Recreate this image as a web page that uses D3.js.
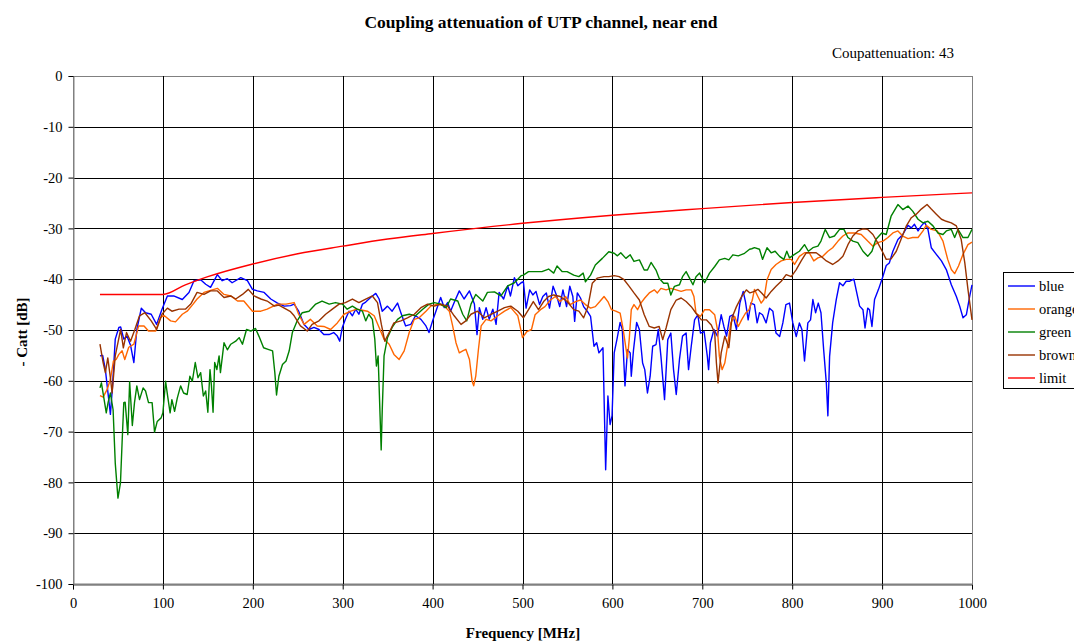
<!DOCTYPE html>
<html>
<head>
<meta charset="utf-8">
<script src="https://cdn.jsdelivr.net/npm/d3@7"></script>
<style>
  body { margin: 0; background: #fff; }
  text { font-family: "Liberation Serif", "DejaVu Serif", serif; }
</style>
</head>
<body>
<svg id="chart" width="1074" height="641"></svg>
<script>
// [frequency MHz, dB]
const blue = [[30,-55.1],[33,-55],[36,-57.8],[41.6,-66.6],[44,-61],[47,-51.8],[51,-49.5],[53,-49.4],[56.5,-51.8],[60,-51.2],[64,-53],[67.7,-56.4],[71,-49.9],[76,-45.7],[80.7,-46.6],[87,-46.9],[93,-48.9],[99,-45.9],[105,-43.3],[112,-43.3],[121.6,-44],[129,-42.6],[134.6,-40.3],[142,-40.1],[147.6,-41],[153,-41.6],[160.6,-39.1],[166,-40.3],[171.7,-39.9],[177,-40.7],[186.6,-39.7],[194,-40.3],[199.6,-42],[205,-42.3],[212.6,-42.6],[220,-43.9],[227.5,-44.7],[235,-45.3],[242,-45.2],
  [246,-44.9],[251,-46.3],[257,-48.9],[262.5,-49.9],[268,-49.5],[273.6,-49.9],[279,-50.9],[284.8,-50.9],[290,-50.5],[294,-51.2],[296.7,-52.2],[299.6,-49.5],[303,-47.9],[307,-46.3],[310.8,-47.2],[314.5,-45.9],[318,-46.9],[322,-44.9],[325.6,-44.5],[331,-43.6],[336.8,-42.8],[340.5,-43.9],[344,-46.3],[349.8,-45.3],[355,-46.3],[361,-44.7],[364.7,-46.6],[370,-49.2],[375.8,-48.9],[381,-47.2],[387,-47.9],[392.6,-49.2],[396,-50.5],[400,-48.2],[403.7,-46.3],[409,-43.6],[413,-45.6],[416.7,-44.6],[420,-46.3],[424,-44.6],[429.7,-42.3],[435,-43.9],[441,-42.3],[446.5,-44.9],[449.4,-50.9],[452,-45.6],[455.8,-47.9],[459.5,-45.6],[463,-47.9],[467,-45.9],[470.6,-48.9],[474,-42.6],[479,-43.9],[483.6,-41.3],[486.6,-43.3],[491,-39.7],[494.8,-41.3],[498.5,-40.7],
  [501,-40.5],[504,-45.7],[508,-42.1],[511.5,-43.1],[515,-42.4],[519,-45],[522.6,-43.4],[526.5,-42.7],[530,-45.7],[534,-41.4],[537.7,-43.1],[541.4,-45.4],[545,-42.1],[549,-45.4],[552.6,-41.4],[556,-43.4],[558,-48.3],[561,-42.7],[564.5,-43.7],[568,-45.4],[572,-46.3],[575.7,-47.3],[579.5,-53.2],[582.5,-52.5],[585,-54.5],[589.5,-53.5],[590.7,-63],[592.5,-77.5],[595,-63],[597.4,-68.6],[599.6,-66.9],[602,-54.5],[605,-51.9],[608.6,-48.5],[611,-49.9],[614,-61],[616.8,-53.9],[619.8,-54.5],[621,-59.1],[623.5,-53.9],[627,-48.5],[630,-49.9],[633.6,-56.5],[636,-57.8],[639,-62.4],[642,-59.1],[644.8,-53.2],[648.5,-52.9],[651,-49.9],[654,-55.2],[658,-63.7],[661.6,-51.9],[665,-50.6],[668,-57.8],[671,-62.7],[674.6,-55.8],[678,-51.2],[682,-50.6],[684.7,-57.8],[687.7,-53.2],[691.4,-48],[695,-47],[698,-50.6],[702,-50.3],[705.6,-55.2],[707,-57.8],[709,-52.5],[713,-49.9],[716.8,-51.2],[721,-47],[724,-49.3],[727,-51.2],[730.6,-47.3],[734,-47],[738,-49.9],[741.8,-44.7],[745.5,-42.4],[748,-44.4],[751,-48],[754,-44.7],
  [758,-45],[761,-48.6],[763.6,-46.6],[767,-47],[771,-48.6],[774.8,-45.7],[778.5,-46.3],[782,-50.6],[786,-51.3],[789.6,-48.6],[793,-45],[797,-44.7],[800.7,-48.6],[804.5,-51.3],[808,-48.6],[810.8,-49.9],[813.7,-56.1],[817.4,-48.6],[820.4,-48],[823,-44],[826,-46.6],[829,-44.7],[832,-46.6],[835,-53.9],[838,-60.5],[839.7,-66.9],[841.6,-55.2],[845,-48.6],[849,-44],[852.7,-40.7],[856.4,-41.3],[860,-40.4],[864,-40.4],[868.6,-40],[871,-42],[875,-45.3],[878.7,-46],[881,-49.6],[884,-45.7],[886,-46],[888.7,-49.3],[891.6,-44],[896,-42],[901,-39.4],[904.6,-37.3],[908,-36.8],[912,-34.5],[917.6,-32.2],[923,-31.2],[928.8,-29.4],[932.5,-29.9],[936,-29.2],[940,-30.5],[943.6,-29.5],[947.3,-28.8],[951,-30.2],[954.7,-33.8],[960.3,-35.1],[966,-36.4],[971.4,-38.1],[977,-41.1],[982.6,-43.4],[986.3,-45.3],[990,-47.6],[993.7,-47],[997.4,-43.4],[1000,-41.1]];

const orange = [[30,-62.9],[33.5,-63.2],[38,-61.7],[41.6,-59.7],[45,-56.1],[48,-55.8],[51,-54.8],[54.6,-54.1],[57.6,-55.8],[62,-53.4],[67.7,-52.8],[73,-49.2],[79,-49.2],[84,-50.2],[92,-50.2],[97,-47.6],[101,-47.1],[108.6,-48.2],[114,-48.4],[121.6,-46.9],[127,-46.3],[132.7,-45.1],[138,-43.9],[145.7,-42.6],[153,-42.2],[160.6,-41.8],[168,-43],[175.5,-43.3],[183,-44.3],[190,-44.3],[199.6,-46.3],[209,-46.3],[216,-45.9],[227.5,-44.9],[237,-44.9],
  [246,-44.6],[251,-46.9],[257,-48.9],[264,-47.9],[271.7,-49.2],[279,-49.3],[286.6,-49.9],[294,-48.6],[301.5,-46.9],[309,-46.3],[316,-45.9],[322,-46.1],[327.5,-46.3],[335,-47.2],[340.5,-49.5],[346,-51.8],[351.7,-52.8],[357,-54.8],[362.8,-55.8],[368.4,-54.1],[374,-50.5],[379.6,-47.9],[385,-47.6],[392.6,-46.3],[398,-45.3],[405.6,-44.9],[413,-45.3],[418.6,-46.3],[422.3,-49.2],[426,-52.5],[429.7,-54.5],[433.5,-54.1],[437,-53.8],[441,-55.8],[444,-60.1],[445.7,-61],[448,-59.1],[451,-53.8],[454,-49.2],[459.5,-47.9],[465,-48.2],[472.5,-47.2],[480,-46.3],[487,-45.6],[494.8,-47.2],[500,-51.5],
  [504.9,-50.3],[510,-49.9],[514,-47],[520,-46],[525,-45.4],[531,-44.1],[536.6,-43.4],[542,-44.4],[548,-43.4],[553,-45],[559,-44.4],[564.5,-44.1],[570,-45],[575.7,-45.7],[581,-45.4],[586,-44.4],[590.7,-43.4],[595,-44.4],[599,-46],[603.7,-46.3],[608.6,-46.7],[612,-49.9],[615,-53.5],[616.8,-55.5],[618.7,-51.9],[621,-46],[624,-45],[628,-46],[631.7,-44.7],[636,-43.7],[641,-42.7],[646.6,-42.1],[650,-42.7],[654,-41.8],[659.7,-42.1],[665,-41.8],[671,-42.1],[676.5,-42.4],[682,-42.1],[687.7,-42.1],[690.7,-43.4],[693,-46.7],[698,-47.3],[702.6,-46],[708,-46],[713.8,-47],[716.8,-49.9],[719,-55.2],[722,-57.8],[725,-56.5],[728,-53.2],[731.7,-48.6],[736,-47.3],[740,-49.3],[743.7,-48],[748,-46.7],[752,-46],[755.6,-44.1],
  [758,-42],[761.8,-43.4],[765.5,-44.7],[768.5,-44],[772,-40.1],[776.6,-38.1],[782,-37.1],[787.8,-36.4],[793.3,-36.1],[799,-36.1],[802.6,-37.1],[808,-35.5],[813.7,-34.8],[819,-34.8],[824,-36.4],[828.6,-35.8],[834,-35.5],[839.7,-34.5],[845,-33.8],[851,-32.5],[856.4,-31.5],[862,-30.9],[869.4,-30.9],[876.8,-31.2],[884,-32.5],[889.8,-33.5],[895,-32.8],[901,-32.5],[906.5,-31.8],[912,-30.9],[917.6,-30.5],[923,-31.5],[928.8,-32],[934,-31.8],[940,-31.8],[945.5,-30.5],[949,-29.4],[954.7,-30.2],[961.4,-30.5],[967.7,-32.5],[973,-36.1],[977,-38.1],[980.7,-38.9],[985,-37.4],[990,-35.1],[995.5,-33.2],[1000,-32.7]];

const green = [[30,-61.4],[31.6,-60.4],[34,-63],[37,-66.3],[39,-64.3],[41.6,-62.4],[44.6,-65.7],[47,-76.2],[50,-83.1],[52.8,-80.1],[54.6,-72.2],[56.5,-64.3],[58,-64.2],[61,-70.6],[63,-60.2],[66,-68.8],[68.4,-64.3],[71,-61],[74,-63.7],[78,-61.4],[80.7,-62],[84,-64.3],[88,-64.3],[90.7,-70.1],[93.7,-68],[98,-67.3],[100,-66.3],[103,-60.1],[105.6,-63.4],[108,-66.3],[110,-63.7],[113,-66],[116,-63.4],[119.7,-61],[123,-62.4],[127,-62.7],[130,-59.1],[132.7,-60.1],[136,-56.4],[139,-59.4],[142,-58.4],[145,-63],[147.6,-62],[150,-66.2],[152.4,-57.8],[154,-61],[155.8,-66.2],[157.6,-56.4],[160,-57.8],[162.5,-55.1],[164,-58.4],[168,-52.5],[171.7,-53.9],[175.5,-52.8],[181,-52.2],[184.8,-51.5],[188.5,-52.8],[193,-49.9],[197.8,-50.2],[203,-49.7],[207,-51.3],[212,-53.5],[217,-53.8],[222,-54.1],[224.5,-58.4],[226.4,-62.8],[229,-59.1],[233,-56.8],[237,-56.1],[240.5,-54.1],[244,-50.5],
  [249.4,-48.2],[255,-46.6],[262.5,-46.3],[270,-44.9],[277,-44.3],[285,-44.9],[292,-44.6],[299.6,-44.9],[305,-45.9],[310.8,-45.3],[316,-45.9],[322,-46.3],[325.6,-48.2],[329,-46.9],[333,-47.9],[335.7,-51.8],[337.5,-57.1],[339.4,-55.1],[341.6,-67],[342.8,-73.6],[344,-65.7],[346,-55.1],[349.8,-51.5],[355,-49.5],[361,-47.9],[366.5,-47.2],[374,-46.9],[381,-47.2],[389,-45.9],[396,-44.9],[402,-44.6],[409,-44.9],[415,-45.6],[420,-43.9],[428,-44.3],[433.5,-46.9],[438,-48.2],[442.7,-44.9],[448,-43],[455.8,-44.3],[461,-42.6],[468.8,-42.5],[476,-43.3],[483.6,-41.3],[491,-40.7],[498.5,-39.3],
  [501,-39.2],[506.7,-38.5],[514,-38.5],[521.6,-38.5],[529,-38],[534.7,-38.8],[538.4,-37.4],[544,-38.5],[549.6,-38.5],[557,-39.2],[562.7,-39.5],[567.5,-38.8],[570,-40.5],[575.7,-39.2],[581,-37.2],[588.8,-35.9],[596,-34.6],[602,-34.9],[605.6,-35.4],[609.3,-34.8],[615,-35.9],[619.8,-35.2],[624,-36.5],[630,-36.2],[635.4,-38.2],[639,-38.2],[643,-36.7],[648.5,-38.2],[652,-39.8],[657,-40.8],[661.6,-40.8],[665,-43.1],[669,-41.4],[674.6,-41.1],[678,-39.5],[682,-38.5],[685.8,-39.8],[689.6,-41.1],[693,-39.5],[697,-38.8],[702.6,-40.7],[708,-38.8],[713.8,-37.5],[719,-36.2],[725,-35.9],[729.5,-36.2],[734,-35.2],[740,-35.4],[747,-34.9],[752.6,-34.1],[755,-34],
  [758,-33.8],[763.6,-34.1],[767,-36.1],[772,-33.8],[776.6,-34.8],[781,-34.5],[786,-35.5],[790.7,-36.1],[794,-34.5],[797,-35.8],[802.6,-35.1],[808,-34.5],[813.7,-33.2],[818,-34.5],[823,-33.8],[828.6,-33.5],[832,-32.5],[836.7,-30.2],[841.6,-31.8],[847,-31.5],[852.7,-30.2],[857.5,-30.2],[862,-31.8],[867.5,-32.5],[873,-32.8],[878.7,-34.5],[884,-35.5],[888.7,-34.5],[893,-32.2],[899.6,-30.9],[904.6,-31.2],[910,-27.6],[917.6,-25.3],[923,-26.3],[928.8,-25.6],[934,-26.6],[940,-28.2],[945.5,-28.9],[951,-28.6],[956.6,-29.5],[962,-30.9],[967.7,-31.2],[971.4,-30.5],[977,-30.2],[980.7,-31.8],[984.4,-30.2],[990,-31.8],[995.5,-31.8],[1000,-30.2]];

const brown = [[30,-52.8],[33.5,-56.4],[36,-58.4],[38.7,-55.5],[41.6,-59.4],[43.5,-62.4],[47,-55.1],[50,-52.5],[53,-49.9],[56,-53.5],[59.5,-50.5],[64,-52.2],[68.8,-49.9],[74,-47.2],[80,-46.6],[87,-48.2],[93,-49.9],[99,-46.9],[105,-45.7],[110,-46.3],[118,-45.9],[125,-45.9],[131,-44.9],[138,-42.6],[145.7,-43],[153,-42.3],[160.6,-42.3],[168,-43.6],[175.5,-43.3],[181,-43.9],[188.5,-43],[195,-42],[201.5,-43.3],[209,-43.9],[216,-44.3],[224,-45.3],[229,-45.1],[237,-45.9],[242,-46.4],
  [246,-47.2],[253,-49.2],[260.6,-50.2],[266,-48.9],[273.6,-48.2],[281,-46.9],[288.5,-45.9],[296,-44.9],[303,-44.6],[310.8,-43.9],[318,-44.6],[325.6,-43.9],[333,-43.3],[338.7,-44.6],[343,-48.9],[346.8,-52.2],[351.7,-50.5],[357,-48.6],[364.7,-48.2],[372,-47.6],[379.6,-46.9],[387,-45.6],[394.4,-44.9],[401.9,-45.3],[409,-44.9],[416.7,-45.3],[424,-47.2],[431.6,-48.9],[437,-48.2],[442.7,-46.9],[450,-46.3],[457.6,-47.6],[465,-46.9],[472.5,-46.3],[480,-45.6],[487,-45.3],[494.8,-46.3],
  [501,-47.6],[506.7,-46],[512,-44.4],[517.8,-46],[523.5,-44.4],[529,-43.4],[534.7,-43.1],[542,-43.4],[549.6,-44.4],[557,-46],[562.7,-46.3],[568,-47.6],[572.8,-45.4],[577.6,-40.8],[583,-39.8],[590.7,-39.5],[596,-39.5],[602,-39.3],[607.5,-39.5],[613,-40.1],[618.7,-41.4],[624,-42.7],[630,-44.1],[635.4,-47],[641,-49.3],[646.6,-49.6],[652,-49.3],[656,-51.9],[659.7,-49.6],[665,-46],[671,-44.1],[676.5,-43.7],[682,-44.4],[687.7,-45.4],[693,-46.7],[699,-48],[704.5,-48],[710,-49],[713.8,-50.6],[715.7,-56.5],[717.5,-60.4],[721,-54.5],[725,-51.2],[729.5,-53.5],[733,-47.6],[738,-45.4],[743.7,-43.4],[749,-42.1],[753,-42.7],
  [758,-42.4],[761.8,-42],[766,-42.7],[771,-43.7],[776.6,-42.4],[782,-41.4],[787.8,-40.4],[793.3,-39.1],[799,-39.5],[804.5,-38.1],[810,-36.4],[815.6,-34.8],[821,-34.8],[826.7,-34.8],[832,-35.5],[838,-36.4],[845,-37.1],[851,-36.4],[856.4,-35.5],[862,-33.2],[867.5,-31.5],[873,-30.5],[878.7,-30.1],[884,-30.2],[889.8,-31.2],[895,-32.8],[901,-34.8],[904.6,-36.1],[910,-36],[915.8,-34.5],[921,-32.2],[927,-29.5],[932.5,-27.9],[938,-27.2],[943.6,-26.2],[950,-25.3],[954.7,-26.2],[960.3,-27.2],[966,-28.2],[971.4,-28.6],[977,-28.9],[982.6,-29.5],[988,-32.2],[992,-36.8],[995.5,-42],[998.5,-46],[1000,-48]];

const limit = [[30,-43],[100,-43],[125,-41.1],[150,-39.5],[200,-37],[250,-35],[300,-33.5],[350,-32.1],[400,-31],[500,-29],[600,-27.4],[700,-26.1],[800,-24.9],[900,-23.9],[1000,-23]];

const seriesNames = ["blue", "orange", "green", "brown", "limit"];
const seriesData = [blue, orange, green, brown, limit];
const colors = ["#0000ff", "#ff6600", "#008000", "#993300", "#ff0000"];

const xTicks = d3.range(0, 1001, 100);
const yTicks = d3.range(-100, 1, 10);

const svg = d3.select("#chart");
const margin = {left: 73, right: 972, top: 76, bottom: 584};

const x = d3.scaleLinear().domain([0, 1000]).range([margin.left, margin.right]);
const y = d3.scaleLinear().domain([-100, 0]).range([margin.bottom, margin.top]);

// grid
svg.append("g")
   .selectAll("line")
   .data(yTicks)
   .enter()
   .append("line")
   .attr("x1", x(0)).attr("x2", x(1000))
   .attr("y1", d => Math.round(y(d)) + 0.5)
   .attr("y2", d => Math.round(y(d)) + 0.5)
   .attr("stroke", d => d === -100 || d === 0 ? "#808080" : "#000")
   .attr("stroke-width", d => d === -100 ? 2 : 1);

svg.append("g")
   .selectAll("line")
   .data(xTicks)
   .enter()
   .append("line")
   .attr("x1", d => Math.round(x(d)) + 0.5)
   .attr("x2", d => Math.round(x(d)) + 0.5)
   .attr("y1", y(0)).attr("y2", y(-100))
   .attr("stroke", d => d === 0 || d === 1000 ? "#808080" : "#000")
   .attr("stroke-width", 1);

// axes
const xAxis = d3.axisBottom(x).tickValues(xTicks).tickFormat(d => String(d)).tickSize(5).tickPadding(8);
const yAxis = d3.axisLeft(y).tickValues(yTicks).tickFormat(d => String(d)).tickSize(5).tickPadding(6);

const gx = svg.append("g")
              .attr("transform", `translate(0,${Math.round(y(-100)) + 0.5})`)
              .call(xAxis);
const gy = svg.append("g")
              .attr("transform", `translate(${Math.round(x(0)) + 0.5},0)`)
              .call(yAxis);

[gx, gy].forEach(g => {
  g.select(".domain").attr("stroke", "#808080");
  g.selectAll(".tick line").attr("stroke", "#000");
  g.selectAll("text")
   .attr("font-family", "Liberation Serif")
   .attr("font-size", 14.5)
   .attr("fill", "#000");
});

// series
const line = d3.line()
               .x(d => x(d[0]))
               .y(d => y(d[1]));

const limitLine = d3.line()
                    .curve(d3.curveMonotoneX)
                    .x(d => x(d[0]))
                    .y(d => y(d[1]));

svg.append("g")
   .selectAll("path")
   .data(seriesData)
   .enter()
   .append("path")
   .attr("fill", "none")
   .attr("stroke", (d, i) => colors[i])
   .attr("stroke-width", 1.4)
   .attr("stroke-linejoin", "round")
   .attr("d", (d, i) => i === 4 ? limitLine(d) : line(d));

// titles
svg.append("text")
   .attr("x", 541).attr("y", 28)
   .attr("text-anchor", "middle")
   .attr("font-size", 17.5).attr("font-weight", "bold")
   .text("Coupling attenuation of UTP channel, near end");

svg.append("text")
   .attr("x", 954).attr("y", 58)
   .attr("text-anchor", "end")
   .attr("font-size", 15)
   .text("Coupattenuation: 43");

svg.append("text")
   .attr("x", 523).attr("y", 638)
   .attr("text-anchor", "middle")
   .attr("font-size", 15).attr("font-weight", "bold")
   .text("Frequency [MHz]");

svg.append("text")
   .attr("transform", "translate(27,332) rotate(-90)")
   .attr("text-anchor", "middle")
   .attr("font-size", 15).attr("font-weight", "bold")
   .text("- Catt [dB]");

// legend
const legend = svg.append("g").attr("transform", "translate(1003,272)");
legend.append("rect")
      .attr("x", 0.5).attr("y", 0.5)
      .attr("width", 90).attr("height", 116)
      .attr("fill", "#fff").attr("stroke", "#000");

const items = legend.selectAll(".legend-item")
                    .data(seriesNames)
                    .enter()
                    .append("g")
                    .attr("class", "legend-item")
                    .attr("transform", (d, i) => `translate(0,${14 + i * 23})`);

items.append("line")
     .attr("x1", 5).attr("x2", 32)
     .attr("stroke", (d, i) => colors[i])
     .attr("stroke-width", 1.4);

items.append("text")
     .attr("x", 36).attr("y", 5)
     .attr("font-size", 14.5)
     .text(d => d);
</script>
</body>
</html>
